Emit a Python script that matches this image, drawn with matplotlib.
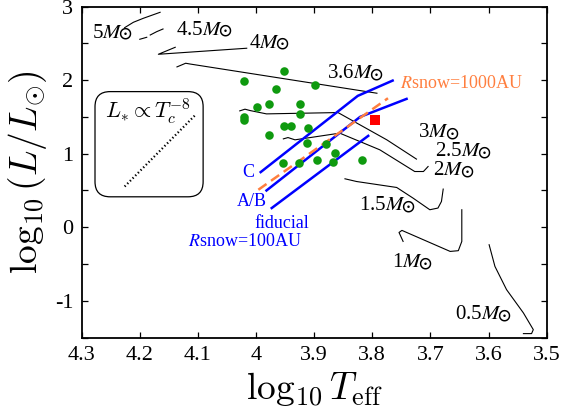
import matplotlib
matplotlib.use("Agg")
import matplotlib.pyplot as plt
import numpy as np
from matplotlib.patches import FancyBboxPatch
from matplotlib.offsetbox import TextArea, HPacker, AnnotationBbox

plt.rcParams['font.family'] = ['Liberation Serif', 'DejaVu Serif']
plt.rcParams['mathtext.fontset'] = 'stix'

# ---------------- data ----------------
xticks = [4.3, 4.2, 4.1, 4.0, 3.9, 3.8, 3.7, 3.6, 3.5]
xtick_labels = ["4.3", "4.2", "4.1", "4", "3.9", "3.8", "3.7", "3.6", "3.5"]
yticks = [-1.5, -1.0, -0.5, 0.0, 0.5, 1.0, 1.5, 2.0, 2.5, 3.0]
ytick_labels = ["", "-1", "", "0", "", "1", "", "2", "", "3"]

# evolutionary tracks (log Teff, log L)
trk_5_T = [4.226, 4.211, 4.194, 4.165]
trk_5_L = [2.715, 2.788, 2.842, 2.924]
trk_45a_T = [4.200, 4.188]
trk_45a_L = [2.557, 2.584]
trk_45b_T = [4.182, 4.171, 4.160]
trk_45b_L = [2.615, 2.660, 2.697]
trk_4_T = [4.139, 4.168, 4.016]
trk_4_L = [2.448, 2.353, 2.435]
trk_36_T = [4.136, 4.121, 4.114, 3.792]
trk_36_L = [2.181, 2.231, 2.221, 1.823]
trk_3_T = [4.028, 4.019, 4.010, 3.982, 3.859, 3.775, 3.724]
trk_3_L = [1.583, 1.606, 1.587, 1.542, 1.560, 1.189, 0.927]
trk_25_T = [3.953, 3.945, 3.933, 3.856, 3.787, 3.727, 3.712, 3.704]
trk_25_L = [1.202, 1.220, 1.189, 1.280, 1.053, 0.758, 0.758, 0.826]
trk_2_T = [3.847, 3.827, 3.758, 3.730, 3.701, 3.687, 3.681, 3.678]
trk_2_L = [0.659, 0.622, 0.541, 0.397, 0.238, 0.261, 0.351, 0.519]
trk_1_T = [3.747, 3.754, 3.749, 3.666, 3.652, 3.646, 3.646]
trk_1_L = [-0.193, -0.071, -0.043, -0.329, -0.319, -0.193, 0.238]
trk_05_T = [3.599, 3.589, 3.569, 3.540, 3.523, 3.526, 3.540]
trk_05_L = [-0.238, -0.533, -0.849, -1.166, -1.393, -1.447, -1.447]

mass_labels = ["5", "4.5", "4", "3.6", "3", "2.5", "2", "1.5", "1", "0.5"]
mass_label_T = [4.248, 4.091, 3.978, 3.830, 3.687, 3.645, 3.661, 3.776, 3.732, 3.610]
mass_label_L = [2.639, 2.683, 2.503, 2.086, 1.284, 1.026, 0.768, 0.292, -0.482, -1.189]

# observed stars
star_T = [4.021, 3.952, 3.965, 3.899, 3.999, 3.978, 3.924, 4.021, 4.021, 3.924, 3.952,
          3.940, 3.910, 3.978, 3.913, 3.880, 3.953, 3.926, 3.895, 3.868, 3.864, 3.818]
star_L = [1.995, 2.126, 1.878, 1.936, 1.641, 1.674, 1.678, 1.505, 1.461, 1.542, 1.379,
          1.379, 1.348, 1.257, 1.152, 1.130, 0.880, 0.880, 0.917, 0.894, 1.008, 0.917]
special_T = [3.795]
special_L = [1.461]

# snow-line boundaries
C_T = [3.992, 3.825, 3.765]
C_L = [0.750, 1.787, 1.995]
AB_T = [3.982, 3.821, 3.741]
AB_L = [0.500, 1.501, 1.746]
fid_T = [3.973, 3.807]
fid_L = [0.261, 1.243]
r1000_T = [3.996, 3.773]
r1000_L = [0.510, 1.755]

# inset slope illustration L ~ T^-8
inset_T = np.array([4.226, 4.105])
inset_slope = -8.0
inset_L0 = 0.554

# ---------------- figure ----------------
fig = plt.figure(figsize=(5.63, 4.19), dpi=100)
ax = fig.add_axes([0.145, 0.1945, 0.826, 0.7895])
ax.set_xlim(4.3, 3.5)
ax.set_ylim(-1.5, 3.0)

tracks = [(trk_5_T, trk_5_L), (trk_45a_T, trk_45a_L), (trk_45b_T, trk_45b_L),
          (trk_4_T, trk_4_L), (trk_36_T, trk_36_L), (trk_3_T, trk_3_L),
          (trk_25_T, trk_25_L), (trk_2_T, trk_2_L), (trk_1_T, trk_1_L),
          (trk_05_T, trk_05_L)]
for tt, ll in tracks:
    ax.plot(tt, ll, color='black', lw=0.8)

sun_fam = ['STIXGeneral', 'DejaVu Serif']
for lab, tx, ly in zip(mass_labels, mass_label_T, mass_label_L):
    t1 = TextArea(lab + r"$M$", textprops=dict(size=15, color='black'))
    t2 = TextArea("\u2299", textprops=dict(size=12, color='black', family=sun_fam,
                                           fontweight='bold'))
    pk = HPacker(children=[t1, t2], align='baseline', pad=0, sep=-3)
    ab = AnnotationBbox(pk, (tx, ly), xycoords='data', frameon=False,
                        box_alignment=(0.5, 0.5), pad=0)
    ax.add_artist(ab)

blue = '#0000ff'
orange = '#ff7f3f'
ax.plot(C_T, C_L, color=blue, lw=1.8)
ax.plot(AB_T, AB_L, color=blue, lw=1.8)
ax.plot(fid_T, fid_L, color=blue, lw=1.8)
ax.plot(r1000_T, r1000_L, color=orange, lw=1.8, dashes=(4, 2.2))

ax.scatter(star_T, star_L, s=38, color='#0f9a0f', zorder=5, linewidths=0)
ax.scatter(special_T, special_L, s=60, marker='s', color='#ff0000', zorder=5,
           linewidths=0)

ax.text(4.014, 0.740, "C", color=blue, fontsize=13, ha='center', va='center')
ax.text(4.008, 0.351, "A/B", color=blue, fontsize=13, ha='center', va='center')
ax.text(3.956, 0.057, "fiducial", color=blue, fontsize=13, ha='center', va='center')
ax.text(4.019, -0.190, r"$R$snow=100AU", color=blue, fontsize=13, ha='center',
        va='center')
ax.text(3.646, 1.959, r"$R$snow=1000AU", color=orange, fontsize=13, ha='center',
        va='center')

# inset box
box = FancyBboxPatch((4.091, 0.414), 4.277 - 4.091, 1.845 - 0.414,
                     boxstyle="round,pad=0,rounding_size=0.026",
                     mutation_aspect=7.9, transform=ax.transData,
                     fc='white', ec='black', lw=0.9, zorder=3)
ax.add_patch(box)
ax.plot(inset_T, inset_L0 + inset_slope * (inset_T - inset_T[0]), color='black',
        lw=1.6, ls=(0, (0.6, 1.1)), zorder=4)
ax.text(4.186, 1.583, r"$L_{*}\propto T_c^{-8}$", fontsize=16, ha='center',
        va='center', math_fontfamily='cm', zorder=4)

ax.set_xticks(xticks)
ax.set_xticklabels(xtick_labels)
ax.set_yticks(yticks)
ax.set_yticklabels(ytick_labels)
ax.tick_params(direction='in', top=True, right=True, length=4, width=0.9,
               labelsize=16, pad=6)
for sp in ax.spines.values():
    sp.set_linewidth(1.3)

ax.set_xlabel(r"$\log_{10} T_{\rm eff}$", fontsize=27, math_fontfamily='cm',
              labelpad=4)
ax.set_ylabel(r"$\log_{10}(L/L_{\odot})$", fontsize=27, math_fontfamily='cm',
              labelpad=4)

fig.savefig("out.png", dpi=100)
